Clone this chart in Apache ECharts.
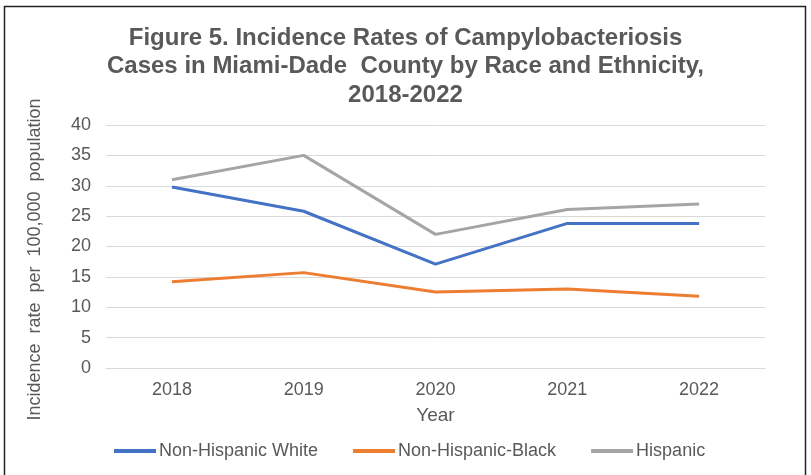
<!DOCTYPE html>
<html>
<head>
<meta charset="utf-8">
<script src="https://cdn.jsdelivr.net/npm/echarts@6/dist/echarts.min.js"></script>
<style>
  html, body { margin: 0; padding: 0; background: #fff; }
  #chart { width: 811px; height: 475px; }
</style>
</head>
<body>
<div id="chart"></div>
<script>
// years on the x axis
const years = ['2018', '2019', '2020', '2021', '2022'];

// rates per 100,000
const nhWhite = [29.8, 25.8, 17.1, 23.8, 23.8];
const nhBlack = [14.2, 15.7, 12.5, 13.0, 11.8];
const hispanic = [31.0, 35.0, 22.0, 26.1, 27.0];

const txt = '#595959';
const font = 'Liberation Sans, Arial, sans-serif';

let myChart = echarts.init(document.getElementById('chart'));

const line = (name, data, color) => ({
    name: name,
    type: 'line',
    data: data,
    symbol: 'none',
    lineStyle: { color: color, width: 3 },
    itemStyle: { color: color }
});

myChart.setOption({
    animation: false,
    backgroundColor: '#fff',
    textStyle: { fontFamily: font },
    title: {
        text: 'Figure 5. Incidence Rates of Campylobacteriosis\nCases in Miami-Dade  County by Race and Ethnicity,\n2018-2022',
        left: 'center',
        top: 19,
        textStyle: {
            color: txt,
            fontSize: 24,
            fontWeight: 'bold',
            lineHeight: 28.5,
            fontFamily: font
        }
    },
    grid: { left: 106, right: 46, top: 125, bottom: 107 },
    legend: {
        bottom: 10,
        left: 109,
        icon: 'rect',
        itemWidth: 42,
        itemHeight: 4,
        itemGap: 35,
        textStyle: { color: txt, fontSize: 18, padding: [0, 0, 0, -2] },
        data: ['Non-Hispanic White', 'Non-Hispanic-Black', 'Hispanic']
    },
    xAxis: {
        type: 'category',
        data: years,
        name: 'Year',
        nameLocation: 'middle',
        nameGap: 38,
        nameTextStyle: { color: txt, fontSize: 19 },
        axisLine: { lineStyle: { color: '#d9d9d9' } },
        axisTick: { show: false },
        axisLabel: { color: txt, fontSize: 18, margin: 13 }
    },
    yAxis: {
        type: 'value',
        min: 0,
        max: 40,
        interval: 5,
        name: 'Incidence  rate  per  100,000  population',
        nameLocation: 'middle',
        nameGap: 62,
        nameTextStyle: { color: txt, fontSize: 18, padding: [0, 26, 0, 0] },
        axisLine: { show: false },
        axisTick: { show: false },
        axisLabel: { color: txt, fontSize: 18, margin: 15 },
        splitLine: { lineStyle: { color: '#d9d9d9', width: 1 } }
    },
    graphic: [{
        type: 'rect',
        shape: { x: 4.5, y: 6.5, width: 801, height: 480 },
        style: { fill: 'none', stroke: '#222', lineWidth: 1.5 },
        silent: true
    }],
    series: [
        line('Non-Hispanic White', nhWhite, '#4472C4'),
        line('Non-Hispanic-Black', nhBlack, '#ED7D31'),
        line('Hispanic', hispanic, '#A5A5A5')
    ]
});
</script>
</body>
</html>
